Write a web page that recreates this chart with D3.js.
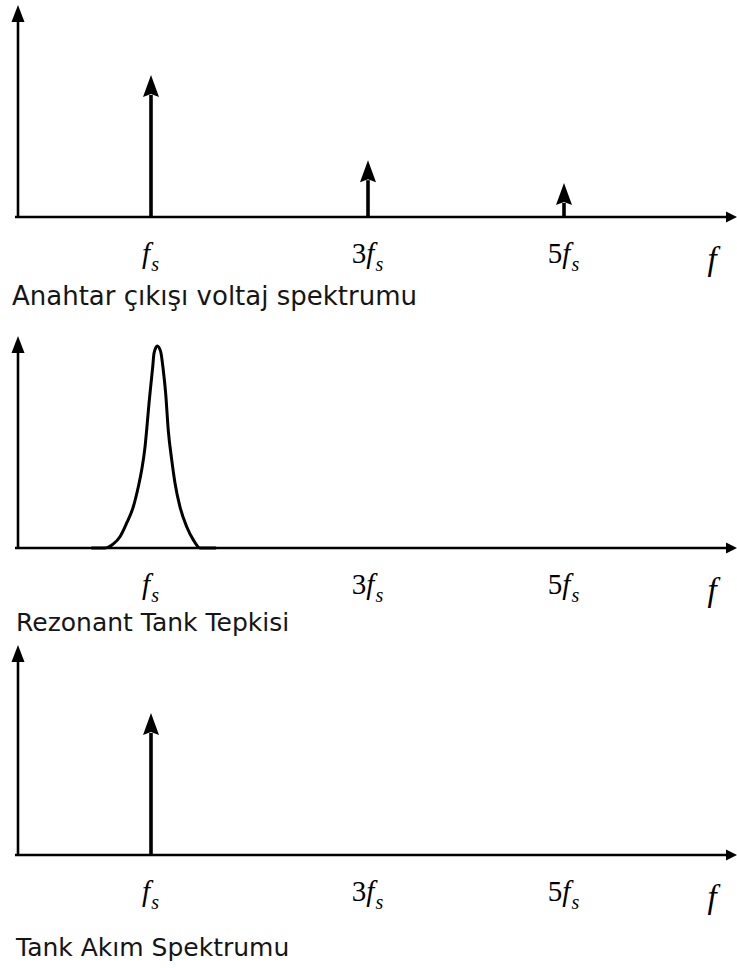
<!DOCTYPE html>
<html>
<head>
<meta charset="utf-8">
<script src="https://cdn.jsdelivr.net/npm/d3@7"></script>
<style>
  html, body { margin: 0; padding: 0; background: #fff; }
  svg { display: block; }
</style>
</head>
<body>
<svg id="chart" width="737" height="968"></svg>
<script>
// Harmonic orders shown on the frequency axis
const harmonics = [1, 3, 5];
const tickCoeffs = ["", "3", "5"];
const tickSymbol = "f";
const tickSub = "s";
const axisName = "f";

// Switch output voltage spectrum (relative amplitude at each harmonic)
const switchAmps = [1, 0.40, 0.24];

// Resonant tank response curve (frequency in units of fs, relative gain)
const tankFreq = [0.45, 0.576, 0.653, 0.714, 0.776, 0.837, 0.883, 0.914, 0.945, 0.960, 0.982, 0.997, 1.016, 1.028, 1.058,
                  1.089, 1.113, 1.135, 1.159, 1.191, 1.221, 1.267, 1.329, 1.390, 1.452, 1.60];
const tankGain = [0, 0, 0.020, 0.056, 0.124, 0.204, 0.303, 0.386, 0.501, 0.584, 0.718, 0.799, 0.898, 0.965, 1.0,
                  0.972, 0.881, 0.767, 0.584, 0.436, 0.322, 0.204, 0.105, 0.040, 0, 0];

// Tank current spectrum
const currentHarmonics = [1];
const currentAmps = [1];

const titles = ["Anahtar çıkışı voltaj spektrumu", "Rezonant Tank Tepkisi", "Tank Akım Spektrumu"];

// Panel geometry
const panels = [
  { axisY: 217, tipY: 5,   height: 142, titleY: 305, titleX: 12, titleSize: 26 },
  { axisY: 548, tipY: 336, height: 202, titleY: 631, titleX: 16, titleSize: 25 },
  { axisY: 855, tipY: 645, height: 142, titleY: 956, titleX: 16, titleSize: 25 }
];

const svg = d3.select("#chart");
const yAxisX = 18;
const xEnd = 737;

// frequency scale shared by all panels
const x = d3.scaleLinear().domain([1, 3, 5]).range([151, 368, 564]);

function drawFrame(g, p) {
  // x axis with arrow
  g.append("line")
    .attr("x1", 15).attr("x2", xEnd - 8)
    .attr("y1", p.axisY).attr("y2", p.axisY)
    .attr("stroke", "#000").attr("stroke-width", 2.6);
  g.append("path")
    .attr("d", `M${xEnd},${p.axisY} L${xEnd - 11},${p.axisY - 5.5} L${xEnd - 11},${p.axisY + 5.5} Z`)
    .attr("fill", "#000");
  // y axis with arrow
  g.append("line")
    .attr("x1", yAxisX).attr("x2", yAxisX)
    .attr("y1", p.axisY + 1).attr("y2", p.tipY + 12)
    .attr("stroke", "#000").attr("stroke-width", 2.6);
  g.append("path")
    .attr("d", `M${yAxisX},${p.tipY} L${yAxisX - 6.5},${p.tipY + 17} L${yAxisX + 6.5},${p.tipY + 17} Z`)
    .attr("fill", "#000");

  // tick labels via a bottom axis
  const axis = d3.axisBottom(x).tickValues(harmonics).tickSize(0).tickFormat("");
  const ax = g.append("g").attr("transform", `translate(0,${p.axisY})`).call(axis);
  ax.select(".domain").remove();
  ax.selectAll(".tick text").remove();
  ax.selectAll(".tick").append("text")
    .attr("x", -1)
    .attr("y", 46)
    .attr("text-anchor", "middle")
    .attr("fill", "#000")
    .attr("font-family", "'Liberation Serif', 'DejaVu Serif', serif")
    .attr("font-size", 29)
    .each(function(d, i) {
      const t = d3.select(this);
      t.append("tspan").text(tickCoeffs[i]);
      t.append("tspan").attr("font-style", "italic").text(tickSymbol);
      t.append("tspan").attr("font-style", "italic").attr("font-size", 20).attr("dx", 1).attr("dy", 8).text(tickSub);
    });

  // axis name
  g.append("text")
    .attr("x", 712).attr("y", p.axisY + 53)
    .attr("text-anchor", "middle")
    .attr("font-family", "'Liberation Serif', 'DejaVu Serif', serif")
    .attr("font-style", "italic")
    .attr("font-size", 33)
    .attr("fill", "#000")
    .text(axisName);
}

function drawSpikes(g, p, freqs, amps) {
  const y = d3.scaleLinear().domain([0, 1]).range([p.axisY, p.axisY - p.height]);
  const data = freqs.map((f, i) => ({ f, a: amps[i] }));
  const headH = 22, headW = 16;
  g.selectAll(".stem").data(data).join("line")
    .attr("x1", d => x(d.f)).attr("x2", d => x(d.f))
    .attr("y1", p.axisY + 1).attr("y2", d => y(d.a) + headH - 2)
    .attr("stroke", "#000").attr("stroke-width", 3.6);
  g.selectAll(".head").data(data).join("path")
    .attr("d", d => {
      const cx = x(d.f), ty = y(d.a);
      return `M${cx},${ty} L${cx - headW / 2},${ty + headH} L${cx},${ty + headH - 3} L${cx + headW / 2},${ty + headH} Z`;
    })
    .attr("fill", "#000");
}

function drawResponse(g, p) {
  const y = d3.scaleLinear().domain([0, 1]).range([p.axisY, p.axisY - p.height]);
  const pts = tankFreq.map((f, i) => [f, tankGain[i]]);
  const line = d3.line()
    .x(d => x(d[0]))
    .y(d => y(d[1]))
    .curve(d3.curveMonotoneX);
  g.append("path")
    .attr("d", line(pts))
    .attr("fill", "none")
    .attr("stroke", "#000")
    .attr("stroke-width", 3)
    .attr("stroke-linejoin", "round");
}

panels.forEach((p, i) => {
  const g = svg.append("g");
  drawFrame(g, p);
  if (i === 0) drawSpikes(g, p, harmonics, switchAmps);
  if (i === 1) drawResponse(g, p);
  if (i === 2) drawSpikes(g, p, currentHarmonics, currentAmps);
  g.append("text")
    .attr("x", p.titleX).attr("y", p.titleY)
    .attr("font-family", "'DejaVu Sans', 'Noto Sans', sans-serif")
    .attr("font-size", p.titleSize)
    .attr("fill", "#151515")
    .text(titles[i]);
});
</script>
</body>
</html>
